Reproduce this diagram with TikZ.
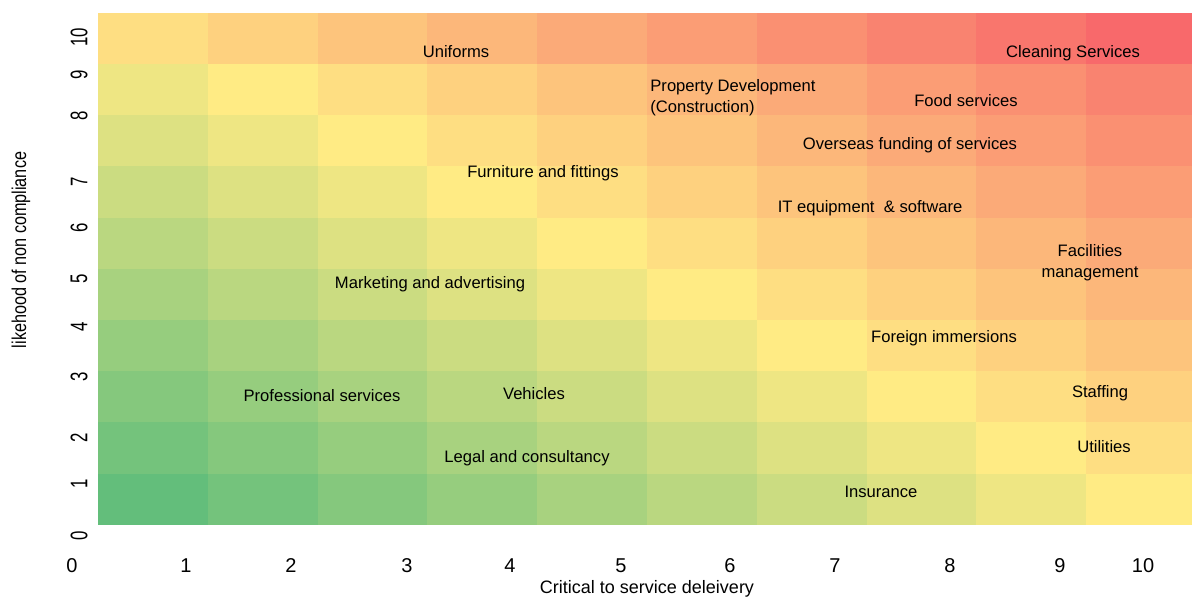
\documentclass[tikz,border=0pt]{standalone}
\usepackage{fontspec}
\setmainfont{Liberation Sans}
\usepackage{graphicx}
\usepackage{tikz}
\usetikzlibrary{positioning}
\usepackage{xcolor}
\definecolor{hmgreen}{HTML}{63BE7B}
\definecolor{hmyellow}{HTML}{FFEB84}
\definecolor{hmred}{HTML}{F8696B}
\newcommand{\cellw}{109.8}
\newcommand{\cellh}{51.2}
\tikzset{
    lblsty/.style={font=\fontsize{8.3}{10.5}\selectfont, inner sep=0pt, text=black},
    xticksty/.style={font=\fontsize{10}{12}\selectfont, inner sep=0pt},
    yticksty/.style={font=\fontsize{12}{14}\selectfont, inner sep=0pt, rotate=90},
    xtitlesty/.style={font=\fontsize{9}{11}\selectfont, inner sep=0pt},
    ytitlesty/.style={font=\fontsize{10}{12}\selectfont, inner sep=0pt, rotate=90},
}

\begin{document}
\begin{tikzpicture}[x=0.5pt, y=-0.5pt]
\fill[white] (0,0) rectangle (1192,599);
\useasboundingbox (0,0) rectangle (1192,599);

% heat cells
\foreach \c in {1,...,10}{
  \foreach \r in {1,...,10}{
    \pgfmathtruncatemacro{\lvl}{\c+\r-11+(\r==10)}
    \ifnum\lvl<0
      \pgfmathtruncatemacro{\pct}{round(-\lvl*100/9)}
      \colorlet{cellcol}{hmgreen!\pct!hmyellow}
    \else
      \pgfmathtruncatemacro{\pct}{\lvl*10}
      \colorlet{cellcol}{hmred!\pct!hmyellow}
    \fi
    \pgfmathsetmacro{\xa}{98+(\c-1)*\cellw}
    \pgfmathsetmacro{\xb}{min(98+\c*\cellw,1192)}
    \pgfmathsetmacro{\ya}{12.7+(10-\r)*\cellh}
    \pgfmathsetmacro{\yb}{\ya+\cellh}
    \fill[cellcol] (\xa,\ya) rectangle (\xb,\yb);
  }
}

% axis ticks
\foreach \v/\xx in {0/72, 1/186, 2/291, 3/407, 4/510, 5/621, 6/730, 7/835, 8/950, 9/1060, 10/1143}
  \node[xticksty] (xt\v) at (\xx,566) {\v};
\foreach \v/\yy in {0/536, 1/484, 2/438, 3/377, 4/327, 5/279, 6/228, 7/182, 8/116, 9/75, 10/37}
  \node[yticksty] (yt\v) at (79,\yy) {\scalebox{0.7}[1]{\v}};

\node[xtitlesty] (xtitle) at (647,589) {Critical to service deleivery};
\node[ytitlesty] (ytitle) at (21,250) {\scalebox{0.81}[1]{likehood of non compliance}};

% categories
\node[lblsty] (uniforms) at (456,52) {Uniforms};
\node[lblsty] (cleaning) at (1073,53) {Cleaning Services};
\node[lblsty, anchor=west, align=left] (property) at (650,98) {Property Development\\(Construction)};
\node[lblsty] (food) at (966,101) {Food services};
\node[lblsty] (overseas) at (910,145) {Overseas funding of services};
\node[lblsty] (furniture) at (543,173) {Furniture and fittings};
\node[lblsty] (itequip) at (870,208) {IT equipment \ \& software};
\node[lblsty, align=center] (facilities) at (1090,263) {Facilities\\management};
\node[lblsty] (marketing) at (430,284) {Marketing and advertising};
\node[lblsty] (foreign) at (944,338) {Foreign immersions};
\node[lblsty] (professional) at (322,396) {Professional services};
\node[lblsty] (vehicles) at (534,394) {Vehicles};
\node[lblsty] (staffing) at (1100,393) {Staffing};
\node[lblsty] (legal) at (527,458) {Legal and consultancy};
\node[lblsty] (utilities) at (1104,447) {Utilities};
\node[lblsty] (insurance) at (881,492) {Insurance};
\end{tikzpicture}
\end{document}
